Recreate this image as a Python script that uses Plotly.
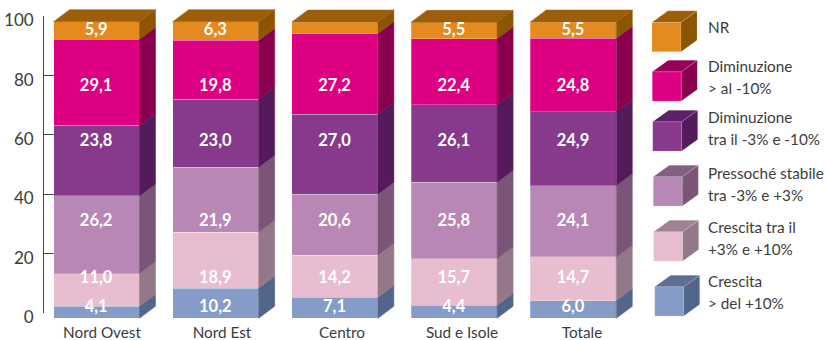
import plotly.graph_objects as go

W, H = 828, 340

categories = ["Nord Ovest", "Nord Est", "Centro", "Sud e Isole", "Totale"]
series_names = [
    "Crescita > del +10%", "Crescita tra il +3% e +10%", "Pressoché stabile tra -3% e +3%",
    "Diminuzione tra il -3% e -10%", "Diminuzione > al -10%", "NR",
]
crescita_oltre_10 = [4.1, 10.2, 7.1, 4.4, 6.0]
crescita_3_10 = [11.0, 18.9, 14.2, 15.7, 14.7]
stabile = [26.2, 21.9, 20.6, 25.8, 24.1]
diminuzione_3_10 = [23.8, 23.0, 27.0, 26.1, 24.9]
diminuzione_oltre_10 = [29.1, 19.8, 27.2, 22.4, 24.8]
nr = [5.9, 6.3, 3.9, 5.5, 5.5]
nr_labelled = [True, True, False, True, True]
series_values = [crescita_oltre_10, crescita_3_10, stabile, diminuzione_3_10, diminuzione_oltre_10, nr]
y_ticks = [0, 20, 40, 60, 80, 100]

front_colors = ["#859CC8", "#E8BDD0", "#B987B5", "#873A8C", "#DE0082", "#E58A1F"]
side_colors = ["#52658A", "#93788A", "#7A5578", "#541A5C", "#8A004F", "#8C5500"]
top_colors = ["#5C7095", "#A08295", "#835F82", "#5E2066", "#960058", "#9C5E08"]

legend_rows = [
    ("NR", None, 5),
    ("Diminuzione", "> al -10%", 4),
    ("Diminuzione", "tra il -3% e -10%", 3),
    ("Pressoché stabile", "tra -3% e +3%", 2),
    ("Crescita tra il", "+3% e +10%", 1),
    ("Crescita", "> del +10%", 0),
]

FONT = "Lato"
TXT = "#3c3c3c"

# pixel layout of the coordinate systems
BAR_X0, BAR_STEP, BAR_W = 96.5, 119.2, 86.0
DEPTH_X, DEPTH_Y = 16.0, 12.0
BAR_Y0, BAR_Y100 = 318.3, 22.0
AX_Y0, AX_Y100 = 313.0, 16.0
TICK_LABEL_DROP = 4.2
LBL_X0, LBL_STEP = 102.0, 120.0
unit = (BAR_Y0 - BAR_Y100) / 100
bw = BAR_W / BAR_STEP
ddx = DEPTH_X / BAR_STEP
ddy = DEPTH_Y / unit

fig = go.Figure()

# Primary axes carry the value axis line/ticks and the category labels; y3 carries the
# value tick labels, which sit a little below their ticks; bars sit on a second pair.
fig.add_trace(go.Scatter(x=[0], y=[0], xaxis="x", yaxis="y", mode="markers",
                         marker=dict(opacity=0), hoverinfo="skip", showlegend=False))
fig.add_trace(go.Scatter(x=[0], y=[0], xaxis="x", yaxis="y3", mode="markers",
                         marker=dict(opacity=0), hoverinfo="skip", showlegend=False))

# stacked front faces
xs = list(range(len(categories)))
for name, vals, col in zip(series_names, series_values, front_colors):
    fig.add_trace(go.Bar(x=xs, y=vals, name=name, xaxis="x2", yaxis="y2", width=bw,
                         marker=dict(color=col, line=dict(color="rgba(255,255,255,0.25)", width=1)),
                         showlegend=False))

# side and top faces derived from the same values
for i in xs:
    base = 0.0
    r = i + bw / 2
    l = i - bw / 2
    for s, vals in enumerate(series_values):
        top = base + vals[i]
        fig.add_trace(go.Scatter(
            x=[r, r, r + ddx, r + ddx, r], y=[base, top, top + ddy, base + ddy, base],
            xaxis="x2", yaxis="y2", mode="lines", fill="toself", fillcolor=side_colors[s],
            line=dict(color=side_colors[s], width=0.5), hoverinfo="skip", showlegend=False))
        base = top
    fig.add_trace(go.Scatter(
        x=[l, r, r + ddx, l + ddx, l], y=[base, base, base + ddy, base + ddy, base],
        xaxis="x2", yaxis="y2", mode="lines", fill="toself", fillcolor=top_colors[5],
        line=dict(color=top_colors[5], width=0.5), hoverinfo="skip", showlegend=False))

# value labels sit on one fixed row per series
label_rows_px = [308, 279, 222, 142, 86.5, 31]
for s, vals in enumerate(series_values):
    shown = [j for j in xs if s != 5 or nr_labelled[j]]
    yv = (BAR_Y0 - label_rows_px[s]) / unit
    fig.add_trace(go.Scatter(
        x=[j - 0.003 for j in shown], y=[yv] * len(shown), xaxis="x2", yaxis="y2", mode="text",
        text=[f"{vals[j]:.1f}".replace(".", ",") for j in shown], textposition="middle center",
        textfont=dict(family=FONT, size=16.5, color="white", weight="bold"),
        hoverinfo="skip", showlegend=False))

# legend cubes
cube_px = [(652.0, 22.3), (652.3, 71.7), (652.7, 121.7), (653.3, 176.7), (653.7, 231.7), (654.7, 286.7)]
CW, CH, CDX, CDY = 29.0, 29.4, 16.0, 11.5
line_step = 22.0
shapes, annotations = [], []


def P(px, py):
    return f"{px / W:.5f} {1 - py / H:.5f}"


text_centers = [26.7, 77.5, 127.5, 183.5, 238.5, 291.5]
for (l1, l2, s), (cx, cy), tc in zip(legend_rows, cube_px, text_centers):
    faces = [
        (f"M{P(cx, cy)} L{P(cx + CW, cy)} L{P(cx + CW, cy + CH)} L{P(cx, cy + CH)} Z", front_colors[s]),
        (f"M{P(cx + CW, cy)} L{P(cx + CW + CDX, cy - CDY)} L{P(cx + CW + CDX, cy + CH - CDY)} L{P(cx + CW, cy + CH)} Z", side_colors[s]),
        (f"M{P(cx, cy)} L{P(cx + CDX, cy - CDY)} L{P(cx + CW + CDX, cy - CDY)} L{P(cx + CW, cy)} Z", top_colors[s]),
    ]
    for path, col in faces:
        shapes.append(dict(type="path", xref="paper", yref="paper", path=path,
                           fillcolor=col, line=dict(color="rgba(255,255,255,0.3)", width=0.5)))
    lines = [l1] if l2 is None else [l1, l2]
    for k, t in enumerate(lines):
        py = tc if l2 is None else tc + (k - 0.5) * line_step
        annotations.append(dict(text=t, xref="paper", yref="paper", x=708 / W, y=1 - py / H,
                                xanchor="left", yanchor="middle", showarrow=False, align="left",
                                xshift=-2, font=dict(family=FONT, size=15.3, color=TXT)))

fig.update_layout(
    width=W, height=H, margin=dict(l=0, r=0, t=0, b=0), paper_bgcolor="white", plot_bgcolor="rgba(0,0,0,0)",
    barmode="stack", showlegend=False, shapes=shapes, annotations=annotations,
    xaxis=dict(domain=[0, 1], range=[-LBL_X0 / LBL_STEP, (W - LBL_X0) / LBL_STEP], automargin=False,
               tickvals=xs, ticktext=categories, ticks="", showline=False, showgrid=False, zeroline=False,
               anchor="free", position=1 - 321.5 / H, tickfont=dict(family=FONT, size=15.3, color=TXT)),
    yaxis=dict(domain=[1 - AX_Y0 / H, 1 - AX_Y100 / H], range=[0, 100], tickvals=y_ticks, automargin=False,
               showticklabels=False, ticks="inside", ticklen=14, tickwidth=1, tickcolor="#444",
               showline=True, linecolor="#444", linewidth=1, showgrid=False, zeroline=False,
               anchor="free", position=42.7 / W),
    yaxis3=dict(domain=[1 - (AX_Y0 + TICK_LABEL_DROP) / H, 1 - (AX_Y100 + TICK_LABEL_DROP) / H], range=[0, 100],
                tickvals=y_ticks, automargin=False, ticks="", showline=False, showgrid=False, zeroline=False,
                anchor="free", position=42.7 / W, ticklabelstandoff=9,
                tickfont=dict(family=FONT, size=17, color=TXT)),
    xaxis2=dict(domain=[0, 1], range=[-BAR_X0 / BAR_STEP, (W - BAR_X0) / BAR_STEP], visible=False,
                anchor="y2", automargin=False),
    yaxis2=dict(domain=[0, 1], range=[-(H - BAR_Y0) / unit, BAR_Y0 / unit], visible=False,
                anchor="x2", automargin=False),
)
fig.write_html("out.html", config=dict(displayModeBar=False),
               post_script="document.body.style.margin='0';document.documentElement.style.overflow='hidden';")
